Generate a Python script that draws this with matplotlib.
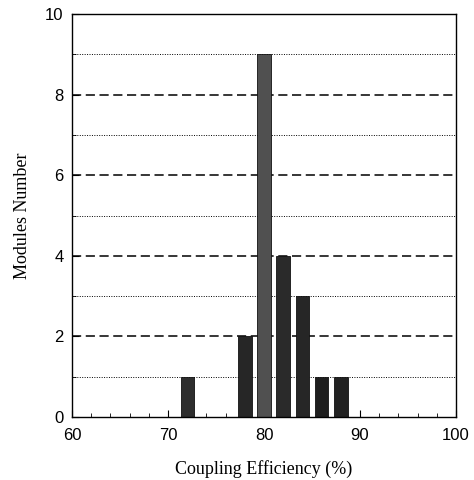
import matplotlib
matplotlib.use("Agg")
import matplotlib.pyplot as plt
from matplotlib.ticker import MultipleLocator

# coupling efficiency bins (%) and module counts
efficiency = [72, 78, 80, 82, 84, 86, 88]
modules = [1, 2, 9, 4, 3, 1, 1]
bar_colors = ['#2e2e2e', '#262626', '#505050', '#2a2a2a', '#262626', '#1e1e1e', '#222222']

fig = plt.figure(figsize=(4.74, 4.8), dpi=100)
ax = fig.add_axes([0.152, 0.131, 0.810, 0.840])

# grid: dashed at even counts, dotted at odd counts
for y in range(1, 10):
    if y % 2 == 0:
        ax.axhline(y, color='black', linestyle=(0, (6, 3)), linewidth=1.1, zorder=1)
    else:
        ax.axhline(y, color='black', linestyle=(0, (1, 1.5)), linewidth=0.7, zorder=1)

ax.bar(efficiency, modules, width=1.4, color=bar_colors, edgecolor='#111111',
       linewidth=0.6, zorder=2)

ax.set_xlim(60, 100)
ax.set_ylim(0, 10)
ax.xaxis.set_major_locator(MultipleLocator(10))
ax.xaxis.set_minor_locator(MultipleLocator(2))
ax.yaxis.set_major_locator(MultipleLocator(2))
ax.yaxis.set_minor_locator(MultipleLocator(1))
ax.tick_params(which='both', direction='in', top=False, right=False)
ax.tick_params(which='major', length=5, labelsize=12)
ax.tick_params(axis='x', which='major', pad=8)
ax.tick_params(axis='y', which='major', pad=6)
ax.tick_params(which='minor', length=3)
for lab in ax.get_xticklabels() + ax.get_yticklabels():
    lab.set_family('Liberation Sans')

for sp in ax.spines.values():
    sp.set_linewidth(1.0)

ax.set_xlabel('Coupling Efficiency (%)', family='Liberation Serif', fontsize=13, labelpad=12)
ax.set_ylabel('Modules Number', family='Liberation Serif', fontsize=13, labelpad=10)

fig.savefig('out.png', dpi=100)
